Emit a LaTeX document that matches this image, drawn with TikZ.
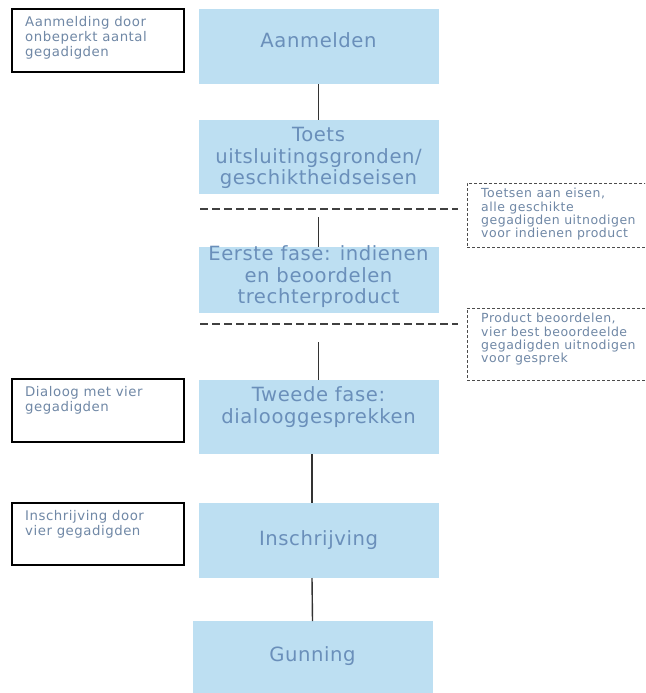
\documentclass[tikz,border=0pt]{standalone}
\usepackage{fontspec}
\setmainfont[LetterSpace=4]{DejaVu Sans}
\newfontfamily\boxfam[LetterSpace=3]{DejaVu Sans}
\definecolor{boxfill}{HTML}{BDDFF2}
\definecolor{maintxt}{HTML}{6A8FBA}
\definecolor{smalltxt}{HTML}{7088A6}
\tikzset{
  mainbox/.style={fill=boxfill, draw=none, minimum width=240pt, inner sep=0pt, outer sep=0pt},
  maintext/.style={text=maintxt, font=\boxfam\fontsize{19.6}{21.5}\selectfont, align=center, inner sep=0pt},
  notebox/.style={draw=black, line width=1.3pt, minimum width=172pt, anchor=north west, inner sep=0pt, outer sep=0pt},
  notetext/.style={text=smalltxt, font=\fontsize{13.3}{15}\selectfont, align=left, anchor=north west, inner sep=0pt},
  dashbox/.style={draw=black!70, dash pattern=on 3pt off 2pt, line width=0.9pt, minimum width=183pt, anchor=north west, inner sep=0pt, outer sep=0pt},
  dashtext/.style={text=smalltxt, font=\fontsize{12.5}{13.4}\selectfont, align=left, anchor=north west, inner sep=0pt},
  sepline/.style={draw=black!75, dash pattern=on 8pt off 4pt, line width=1.2pt},
  conn/.style={draw=black!80, line width=1.4pt}
}
\begin{document}
\begin{tikzpicture}[x=1pt,y=-1pt]
\clip (0,0) rectangle (645,693);
\fill[white] (0,0) rectangle (645,693);

% main boxes
\node[mainbox, minimum height=75pt] (a) at (318.5,46.5) {};
\node[mainbox, minimum height=74pt] (t) at (318.5,157) {};
\node[mainbox, minimum height=66pt] (e) at (318.5,280) {};
\node[mainbox, minimum height=74pt] (w) at (318.5,417) {};
\node[mainbox, minimum height=75pt] (i) at (318.5,540.5) {};
\node[mainbox, minimum height=72pt] (g) at (312.5,657) {};

\node[maintext] (at) at (318.5,40) {Aanmelden};
\node[maintext] (tt) at (318.5,158) {Toets\\uitsluitingsgronden/\\geschiktheidseisen};
\node[maintext] (et) at (318.5,277) {Eerste fase: indienen\\en beoordelen\\trechterproduct};
\node[maintext] (wt) at (318.5,407) {Tweede fase:\\dialooggesprekken};
\node[maintext] (it) at (318.5,540) {Inschrijving};
\node[maintext] (gt) at (312.5,656) {Gunning};

% left notes
\node[notebox, minimum height=63pt] (n1) at (12,9) {};
\node[notebox, minimum height=63pt] (n2) at (12,379) {};
\node[notebox, minimum height=62pt] (n3) at (12,503) {};
\node[notetext] (n1t) at (25,16.5) {Aanmelding door\\onbeperkt aantal\\gegadigden};
\node[notetext] (n2t) at (25,386.5) {Dialoog met vier\\gegadigden};
\node[notetext] (n3t) at (25,510.5) {Inschrijving door\\vier gegadigden};

% dashed notes
\node[dashbox, minimum height=64pt] (d1) at (467,183) {};
\node[dashbox, minimum height=72pt] (d2) at (467,308) {};
\node[dashtext] (d1t) at (481,188) {Toetsen aan eisen,\\alle geschikte\\gegadigden uitnodigen\\voor indienen product};
\node[dashtext] (d2t) at (481,313) {Product beoordelen,\\vier best beoordeelde\\gegadigden uitnodigen\\voor gesprek};

% separator lines
\coordinate (s1a) at (200,209);
\coordinate (s1b) at (458,209);
\coordinate (s2a) at (200,324);
\coordinate (s2b) at (458,324);
\draw[sepline] (s1a) -- (s1b);
\draw[sepline] (s2a) -- (s2b);

% connectors
\coordinate (c2) at (318.5,217);
\coordinate (c3) at (318.5,342);
\draw[conn] (a.south) -- (t.north);
\draw[conn] (c2) -- (e.north);
\draw[conn] (c3) -- (w.north);
\draw[conn] ([xshift=-6.5pt]w.south) -- ([xshift=-6.5pt]i.north);
\draw[conn] ([xshift=-6.5pt]i.south) -- (g.north);
\end{tikzpicture}
\end{document}
